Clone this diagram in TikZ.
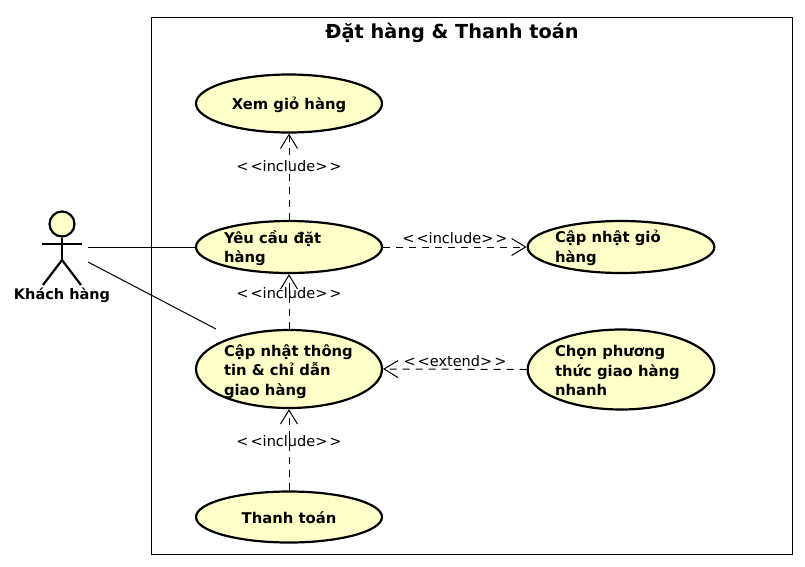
\documentclass[tikz,border=0pt]{standalone}
\usepackage{fontspec}
\setmainfont{DejaVu Sans}
\usetikzlibrary{arrows.meta,shapes.geometric}
\definecolor{ucfill}{HTML}{FFFFC9}
\newcommand{\uctext}[2][130pt]{\raisebox{-4.6pt}[0pt][0pt]{\parbox{#1}{#2}}}
\newcommand{\opening}{<\kern2pt<}
\newcommand{\closing}{>\kern2pt>}
\tikzset{
  usecase/.style={draw=black,line width=2.2pt,fill=ucfill,ellipse,inner sep=0pt,minimum width=186pt,font=\fontsize{14.8}{19.6}\selectfont\bfseries},
  dep/.style={dash pattern=on 7pt off 6pt,line width=1pt,-{Straight Barb[length=14pt,width=17pt,line width=1pt]}},
  deplabel/.style={font=\fontsize{14.5}{17}\selectfont,inner sep=0pt},
  assoc/.style={line width=1pt},
  stick/.style={line width=2.2pt}
}
\begin{document}
\begin{tikzpicture}[x=1pt,y=-1pt]
\useasboundingbox (0,0) rectangle (805,566);
\node[draw=black,line width=1pt,fill=white,minimum width=641pt,minimum height=537pt,inner sep=0pt] (frame) at (471.5,285.5) {};
\node[font=\fontsize{19.3}{23}\selectfont\bfseries,inner sep=0pt] (title) at (452,33) {Đặt hàng \& Thanh toán};
\node[usecase,minimum height=58pt] (xem) at (289,103.5) {\uctext{\centering Xem giỏ hàng\par}};
\node[usecase,minimum height=52pt] (yeu) at (289,247) {\uctext{Yêu cầu đặt\\hàng}};
\node[usecase,minimum height=78pt] (capnhat) at (289,369) {\uctext{\vspace*{3pt}Cập nhật thông\\tin \& chỉ dẫn\\giao hàng}};
\node[usecase,minimum height=51pt] (thanh) at (289,517) {\uctext{\centering Thanh toán\par}};
\node[usecase,minimum height=52pt] (gio) at (621,247) {\uctext[132pt]{Cập nhật giỏ\\hàng}};
\node[usecase,minimum height=80pt] (chon) at (621,369.5) {\uctext[132pt]{Chọn phương\\thức giao hàng\\nhanh}};
\node[draw=black,line width=2.2pt,fill=ucfill,circle,minimum size=25pt,inner sep=0pt] (head) at (62,224) {};
\coordinate (hip) at (62,260);
\coordinate (armL) at (42,244);
\coordinate (armR) at (82,244);
\coordinate (legL) at (43,285);
\coordinate (legR) at (81,285);
\draw[stick] (head.south) -- (hip);
\draw[stick] (armL) -- (armR);
\draw[stick] (legL) -- (hip) -- (legR);
\node[font=\fontsize{14.5}{18}\selectfont\bfseries,inner sep=0pt] (actor) at (62,295) {Khách hàng};
\coordinate (a1) at (88,247);
\coordinate (a2) at (88,262);
\coordinate (a3) at (216,329);
\draw[assoc] (a1) -- (yeu.west);
\draw[assoc] (a2) -- (a3);
\draw[dep] (yeu.north) -- (xem.south);
\draw[dep] (capnhat.north) -- (yeu.south);
\draw[dep] (thanh.north) -- (capnhat.south);
\draw[dep] (yeu.east) -- (gio.west);
\draw[dep] (chon.west) -- (capnhat.east);
\node[deplabel] (l1) at (289,166) {\opening include\closing};
\node[deplabel] (l2) at (289,293) {\opening include\closing};
\node[deplabel] (l3) at (289,441) {\opening include\closing};
\node[deplabel] (l4) at (455,238) {\opening include\closing};
\node[deplabel] (l5) at (455,361) {\opening extend\closing};
\end{tikzpicture}
\end{document}
